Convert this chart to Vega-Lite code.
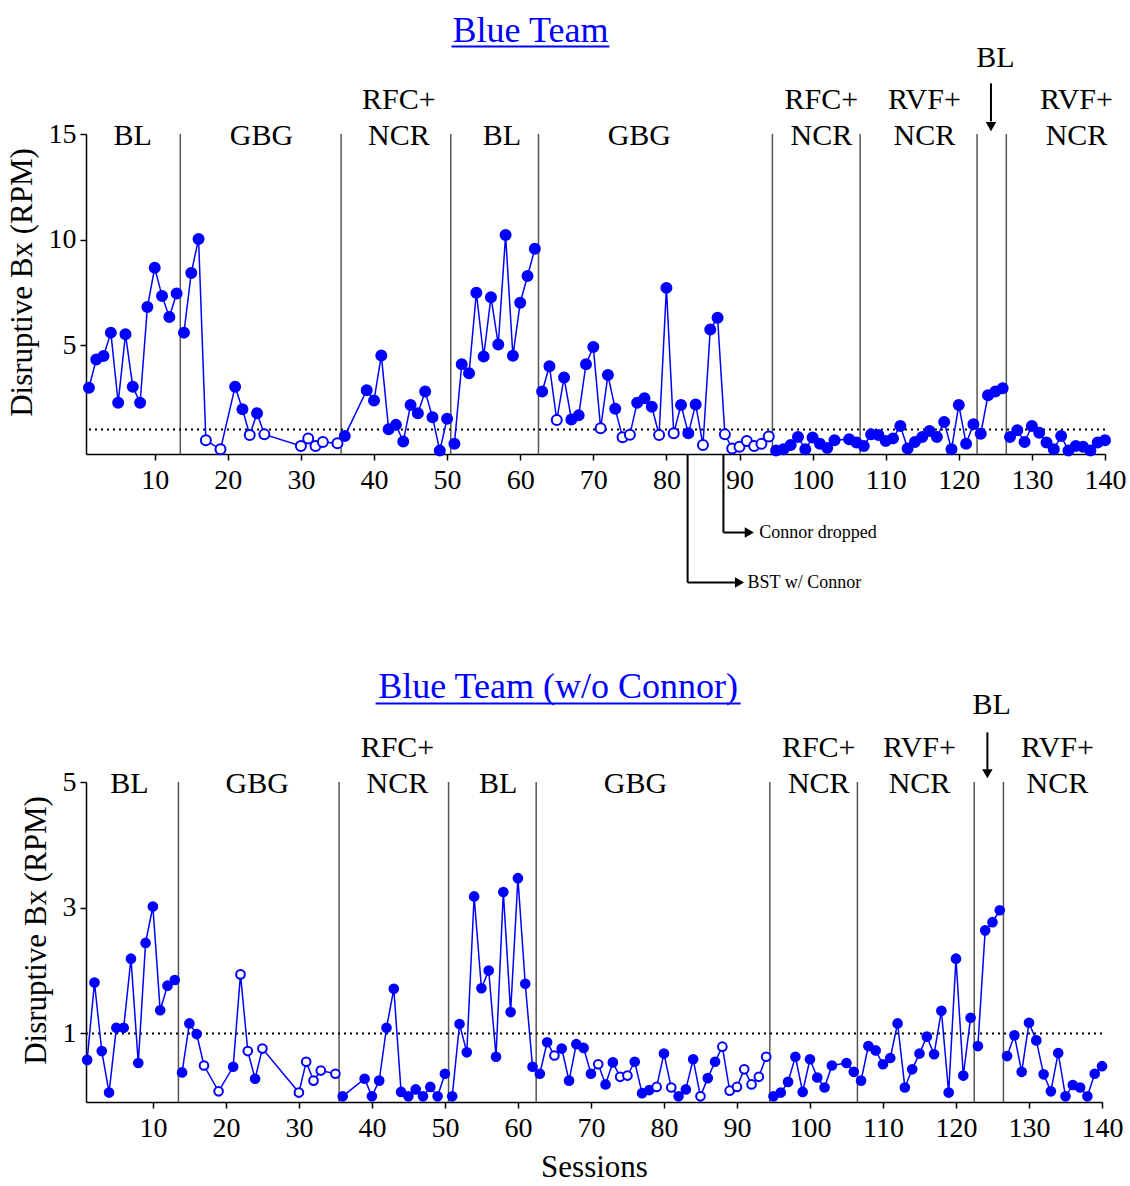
{
  "$schema": "https://vega.github.io/schema/vega-lite/v6.json",
  "background": "white",
  "padding": {"left": 5, "top": 13, "right": 5, "bottom": 0},
  "bounds": "flush",
  "spacing": 328,
  "config": {
    "view": {"stroke": null},
    "font": "Liberation Serif",
    "axis": {"grid": false, "domainColor": "#000000", "tickColor": "#000000", "labelColor": "#000000", "titleColor": "#000000", "labelFont": "Liberation Serif", "titleFont": "Liberation Serif", "labelFontSize": 28, "titleFontSize": 31, "titleFontWeight": "normal", "tickSize": 6, "domainWidth": 1.5, "tickWidth": 1.5, "labelFlush": false, "labelOverlap": false},
    "axisX": {"labelPadding": 6.5},
    "axisY": {"labelPadding": 4, "titleY": 148},
    "text": {"font": "Liberation Serif", "color": "#000000"}
  },
  "datasets": {
    "phaseChanges": [{"session": 13.5}, {"session": 35.5}, {"session": 50.5}, {"session": 62.5}, {"session": 94.5}, {"session": 106.5}, {"session": 122.5}, {"session": 126.5}],
    "labelsTop": [
      {"session": 7, "level": 14.5, "label": "BL"}, {"session": 24.6, "level": 14.5, "label": "GBG"},
      {"session": 43.4, "level": 16.2, "label": "RFC+"}, {"session": 43.4, "level": 14.5, "label": "NCR"},
      {"session": 57.5, "level": 14.5, "label": "BL"}, {"session": 76.3, "level": 14.5, "label": "GBG"},
      {"session": 101.2, "level": 16.2, "label": "RFC+"}, {"session": 101.2, "level": 14.5, "label": "NCR"},
      {"session": 115.3, "level": 16.2, "label": "RVF+"}, {"session": 115.3, "level": 14.5, "label": "NCR"},
      {"session": 136.1, "level": 16.2, "label": "RVF+"}, {"session": 136.1, "level": 14.5, "label": "NCR"},
      {"session": 125, "level": 18.16, "label": "BL"}
    ],
    "labelsBottom": [
      {"session": 6.8, "level": 4.83, "label": "BL"}, {"session": 24.3, "level": 4.83, "label": "GBG"},
      {"session": 43.5, "level": 5.4, "label": "RFC+"}, {"session": 43.5, "level": 4.83, "label": "NCR"},
      {"session": 57.3, "level": 4.83, "label": "BL"}, {"session": 76.1, "level": 4.83, "label": "GBG"},
      {"session": 101.2, "level": 5.4, "label": "RFC+"}, {"session": 101.2, "level": 4.83, "label": "NCR"},
      {"session": 115, "level": 5.4, "label": "RVF+"}, {"session": 115, "level": 4.83, "label": "NCR"},
      {"session": 133.9, "level": 5.4, "label": "RVF+"}, {"session": 133.9, "level": 4.83, "label": "NCR"},
      {"session": 124.9, "level": 6.08, "label": "BL"}
    ],
    "arrowTop": [{"session": 124.4, "from": 17.4, "to": 15.6, "head": 15.35}],
    "arrowBottom": [{"session": 124.3, "from": 5.79, "to": 5.2, "head": 5.13}],
    "underlineTop": [{"start": 50.6, "end": 72.2, "level": 19.15}],
    "underlineBottom": [{"start": 40.5, "end": 90.5, "level": 6.25}],
    "events": [
      {"event": "BST w/ Connor", "session": 82.9, "base": -0.16, "level": -6.25, "armEnd": 90.0, "labelAt": 91.1},
      {"event": "Connor dropped", "session": 87.8, "base": -0.16, "level": -3.88, "armEnd": 91.34, "labelAt": 92.7}
    ],
    "top": [
      {"session": 1, "rpm": 2.98, "phase": 1, "marker": "filled"},
      {"session": 2, "rpm": 4.32, "phase": 1, "marker": "filled"},
      {"session": 3, "rpm": 4.48, "phase": 1, "marker": "filled"},
      {"session": 4, "rpm": 5.59, "phase": 1, "marker": "filled"},
      {"session": 5, "rpm": 2.27, "phase": 1, "marker": "filled"},
      {"session": 6, "rpm": 5.51, "phase": 1, "marker": "filled"},
      {"session": 7, "rpm": 3.03, "phase": 1, "marker": "filled"},
      {"session": 8, "rpm": 2.27, "phase": 1, "marker": "filled"},
      {"session": 9, "rpm": 6.8, "phase": 1, "marker": "filled"},
      {"session": 10, "rpm": 8.66, "phase": 1, "marker": "filled"},
      {"session": 11, "rpm": 7.33, "phase": 1, "marker": "filled"},
      {"session": 12, "rpm": 6.33, "phase": 1, "marker": "filled"},
      {"session": 13, "rpm": 7.44, "phase": 1, "marker": "filled"},
      {"session": 14, "rpm": 5.59, "phase": 2, "marker": "filled"},
      {"session": 15, "rpm": 8.42, "phase": 2, "marker": "filled"},
      {"session": 16, "rpm": 10.03, "phase": 2, "marker": "filled"},
      {"session": 17, "rpm": 0.49, "phase": 2, "marker": "open"},
      {"session": 19, "rpm": 0.06, "phase": 2, "marker": "open"},
      {"session": 21, "rpm": 3.03, "phase": 2, "marker": "filled"},
      {"session": 22, "rpm": 1.96, "phase": 2, "marker": "filled"},
      {"session": 23, "rpm": 0.74, "phase": 2, "marker": "open"},
      {"session": 24, "rpm": 1.77, "phase": 2, "marker": "filled"},
      {"session": 25, "rpm": 0.77, "phase": 2, "marker": "open"},
      {"session": 30, "rpm": 0.22, "phase": 2, "marker": "open"},
      {"session": 31, "rpm": 0.57, "phase": 2, "marker": "open"},
      {"session": 32, "rpm": 0.22, "phase": 2, "marker": "open"},
      {"session": 33, "rpm": 0.41, "phase": 2, "marker": "open"},
      {"session": 35, "rpm": 0.35, "phase": 2, "marker": "open"},
      {"session": 36, "rpm": 0.69, "phase": 3, "marker": "filled"},
      {"session": 39, "rpm": 2.86, "phase": 3, "marker": "filled"},
      {"session": 40, "rpm": 2.38, "phase": 3, "marker": "filled"},
      {"session": 41, "rpm": 4.51, "phase": 3, "marker": "filled"},
      {"session": 42, "rpm": 1.01, "phase": 3, "marker": "filled"},
      {"session": 43, "rpm": 1.22, "phase": 3, "marker": "filled"},
      {"session": 44, "rpm": 0.43, "phase": 3, "marker": "filled"},
      {"session": 45, "rpm": 2.16, "phase": 3, "marker": "filled"},
      {"session": 46, "rpm": 1.77, "phase": 3, "marker": "filled"},
      {"session": 47, "rpm": 2.8, "phase": 3, "marker": "filled"},
      {"session": 48, "rpm": 1.58, "phase": 3, "marker": "filled"},
      {"session": 49, "rpm": 0.0, "phase": 3, "marker": "filled"},
      {"session": 50, "rpm": 1.51, "phase": 3, "marker": "filled"},
      {"session": 51, "rpm": 0.33, "phase": 4, "marker": "filled"},
      {"session": 52, "rpm": 4.09, "phase": 4, "marker": "filled"},
      {"session": 53, "rpm": 3.66, "phase": 4, "marker": "filled"},
      {"session": 54, "rpm": 7.48, "phase": 4, "marker": "filled"},
      {"session": 55, "rpm": 4.46, "phase": 4, "marker": "filled"},
      {"session": 56, "rpm": 7.27, "phase": 4, "marker": "filled"},
      {"session": 57, "rpm": 5.03, "phase": 4, "marker": "filled"},
      {"session": 58, "rpm": 10.21, "phase": 4, "marker": "filled"},
      {"session": 59, "rpm": 4.49, "phase": 4, "marker": "filled"},
      {"session": 60, "rpm": 7.0, "phase": 4, "marker": "filled"},
      {"session": 61, "rpm": 8.27, "phase": 4, "marker": "filled"},
      {"session": 62, "rpm": 9.56, "phase": 4, "marker": "filled"},
      {"session": 63, "rpm": 2.8, "phase": 5, "marker": "filled"},
      {"session": 64, "rpm": 4.0, "phase": 5, "marker": "filled"},
      {"session": 65, "rpm": 1.45, "phase": 5, "marker": "open"},
      {"session": 66, "rpm": 3.46, "phase": 5, "marker": "filled"},
      {"session": 67, "rpm": 1.48, "phase": 5, "marker": "filled"},
      {"session": 68, "rpm": 1.67, "phase": 5, "marker": "filled"},
      {"session": 69, "rpm": 4.09, "phase": 5, "marker": "filled"},
      {"session": 70, "rpm": 4.91, "phase": 5, "marker": "filled"},
      {"session": 71, "rpm": 1.06, "phase": 5, "marker": "open"},
      {"session": 72, "rpm": 3.58, "phase": 5, "marker": "filled"},
      {"session": 73, "rpm": 1.98, "phase": 5, "marker": "filled"},
      {"session": 74, "rpm": 0.63, "phase": 5, "marker": "open"},
      {"session": 75, "rpm": 0.75, "phase": 5, "marker": "open"},
      {"session": 76, "rpm": 2.27, "phase": 5, "marker": "filled"},
      {"session": 77, "rpm": 2.48, "phase": 5, "marker": "filled"},
      {"session": 78, "rpm": 2.08, "phase": 5, "marker": "filled"},
      {"session": 79, "rpm": 0.74, "phase": 5, "marker": "open"},
      {"session": 80, "rpm": 7.71, "phase": 5, "marker": "filled"},
      {"session": 81, "rpm": 0.82, "phase": 5, "marker": "open"},
      {"session": 82, "rpm": 2.16, "phase": 5, "marker": "filled"},
      {"session": 83, "rpm": 0.82, "phase": 5, "marker": "filled"},
      {"session": 84, "rpm": 2.19, "phase": 5, "marker": "filled"},
      {"session": 85, "rpm": 0.27, "phase": 5, "marker": "open"},
      {"session": 86, "rpm": 5.74, "phase": 5, "marker": "filled"},
      {"session": 87, "rpm": 6.29, "phase": 5, "marker": "filled"},
      {"session": 88, "rpm": 0.77, "phase": 5, "marker": "open"},
      {"session": 89, "rpm": 0.1, "phase": 5, "marker": "open"},
      {"session": 90, "rpm": 0.18, "phase": 5, "marker": "open"},
      {"session": 91, "rpm": 0.46, "phase": 5, "marker": "open"},
      {"session": 92, "rpm": 0.22, "phase": 5, "marker": "open"},
      {"session": 93, "rpm": 0.32, "phase": 5, "marker": "open"},
      {"session": 94, "rpm": 0.67, "phase": 5, "marker": "open"},
      {"session": 95, "rpm": 0.0, "phase": 6, "marker": "filled"},
      {"session": 96, "rpm": 0.06, "phase": 6, "marker": "filled"},
      {"session": 97, "rpm": 0.27, "phase": 6, "marker": "filled"},
      {"session": 98, "rpm": 0.65, "phase": 6, "marker": "filled"},
      {"session": 99, "rpm": 0.06, "phase": 6, "marker": "filled"},
      {"session": 100, "rpm": 0.62, "phase": 6, "marker": "filled"},
      {"session": 101, "rpm": 0.33, "phase": 6, "marker": "filled"},
      {"session": 102, "rpm": 0.12, "phase": 6, "marker": "filled"},
      {"session": 103, "rpm": 0.49, "phase": 6, "marker": "filled"},
      {"session": 105, "rpm": 0.54, "phase": 6, "marker": "filled"},
      {"session": 106, "rpm": 0.38, "phase": 6, "marker": "filled"},
      {"session": 107, "rpm": 0.22, "phase": 7, "marker": "filled"},
      {"session": 108, "rpm": 0.77, "phase": 7, "marker": "filled"},
      {"session": 109, "rpm": 0.74, "phase": 7, "marker": "filled"},
      {"session": 110, "rpm": 0.46, "phase": 7, "marker": "filled"},
      {"session": 111, "rpm": 0.58, "phase": 7, "marker": "filled"},
      {"session": 112, "rpm": 1.17, "phase": 7, "marker": "filled"},
      {"session": 113, "rpm": 0.1, "phase": 7, "marker": "filled"},
      {"session": 114, "rpm": 0.41, "phase": 7, "marker": "filled"},
      {"session": 115, "rpm": 0.65, "phase": 7, "marker": "filled"},
      {"session": 116, "rpm": 0.93, "phase": 7, "marker": "filled"},
      {"session": 117, "rpm": 0.65, "phase": 7, "marker": "filled"},
      {"session": 118, "rpm": 1.36, "phase": 7, "marker": "filled"},
      {"session": 119, "rpm": 0.06, "phase": 7, "marker": "filled"},
      {"session": 120, "rpm": 2.16, "phase": 7, "marker": "filled"},
      {"session": 121, "rpm": 0.33, "phase": 7, "marker": "filled"},
      {"session": 122, "rpm": 1.25, "phase": 7, "marker": "filled"},
      {"session": 123, "rpm": 0.8, "phase": 8, "marker": "filled"},
      {"session": 124, "rpm": 2.62, "phase": 8, "marker": "filled"},
      {"session": 125, "rpm": 2.8, "phase": 8, "marker": "filled"},
      {"session": 126, "rpm": 2.95, "phase": 8, "marker": "filled"},
      {"session": 127, "rpm": 0.65, "phase": 9, "marker": "filled"},
      {"session": 128, "rpm": 0.96, "phase": 9, "marker": "filled"},
      {"session": 129, "rpm": 0.41, "phase": 9, "marker": "filled"},
      {"session": 130, "rpm": 1.17, "phase": 9, "marker": "filled"},
      {"session": 131, "rpm": 0.85, "phase": 9, "marker": "filled"},
      {"session": 132, "rpm": 0.38, "phase": 9, "marker": "filled"},
      {"session": 133, "rpm": 0.06, "phase": 9, "marker": "filled"},
      {"session": 134, "rpm": 0.69, "phase": 9, "marker": "filled"},
      {"session": 135, "rpm": 0.0, "phase": 9, "marker": "filled"},
      {"session": 136, "rpm": 0.22, "phase": 9, "marker": "filled"},
      {"session": 137, "rpm": 0.18, "phase": 9, "marker": "filled"},
      {"session": 138, "rpm": 0.0, "phase": 9, "marker": "filled"},
      {"session": 139, "rpm": 0.38, "phase": 9, "marker": "filled"},
      {"session": 140, "rpm": 0.49, "phase": 9, "marker": "filled"}
    ],
    "bottom": [
      {"session": 1, "rpm": 0.58, "phase": 1, "marker": "filled"},
      {"session": 2, "rpm": 1.81, "phase": 1, "marker": "filled"},
      {"session": 3, "rpm": 0.72, "phase": 1, "marker": "filled"},
      {"session": 4, "rpm": 0.06, "phase": 1, "marker": "filled"},
      {"session": 5, "rpm": 1.09, "phase": 1, "marker": "filled"},
      {"session": 6, "rpm": 1.09, "phase": 1, "marker": "filled"},
      {"session": 7, "rpm": 2.19, "phase": 1, "marker": "filled"},
      {"session": 8, "rpm": 0.53, "phase": 1, "marker": "filled"},
      {"session": 9, "rpm": 2.44, "phase": 1, "marker": "filled"},
      {"session": 10, "rpm": 3.02, "phase": 1, "marker": "filled"},
      {"session": 11, "rpm": 1.37, "phase": 1, "marker": "filled"},
      {"session": 12, "rpm": 1.76, "phase": 1, "marker": "filled"},
      {"session": 13, "rpm": 1.85, "phase": 1, "marker": "filled"},
      {"session": 14, "rpm": 0.38, "phase": 2, "marker": "filled"},
      {"session": 15, "rpm": 1.16, "phase": 2, "marker": "filled"},
      {"session": 16, "rpm": 0.99, "phase": 2, "marker": "filled"},
      {"session": 17, "rpm": 0.49, "phase": 2, "marker": "open"},
      {"session": 19, "rpm": 0.08, "phase": 2, "marker": "open"},
      {"session": 21, "rpm": 0.47, "phase": 2, "marker": "filled"},
      {"session": 22, "rpm": 1.94, "phase": 2, "marker": "open"},
      {"session": 23, "rpm": 0.72, "phase": 2, "marker": "open"},
      {"session": 24, "rpm": 0.28, "phase": 2, "marker": "filled"},
      {"session": 25, "rpm": 0.76, "phase": 2, "marker": "open"},
      {"session": 30, "rpm": 0.06, "phase": 2, "marker": "open"},
      {"session": 31, "rpm": 0.55, "phase": 2, "marker": "open"},
      {"session": 32, "rpm": 0.25, "phase": 2, "marker": "open"},
      {"session": 33, "rpm": 0.41, "phase": 2, "marker": "open"},
      {"session": 35, "rpm": 0.36, "phase": 2, "marker": "open"},
      {"session": 36, "rpm": 0.0, "phase": 3, "marker": "filled"},
      {"session": 39, "rpm": 0.28, "phase": 3, "marker": "filled"},
      {"session": 40, "rpm": 0.0, "phase": 3, "marker": "filled"},
      {"session": 41, "rpm": 0.25, "phase": 3, "marker": "filled"},
      {"session": 42, "rpm": 1.09, "phase": 3, "marker": "filled"},
      {"session": 43, "rpm": 1.71, "phase": 3, "marker": "filled"},
      {"session": 44, "rpm": 0.07, "phase": 3, "marker": "filled"},
      {"session": 45, "rpm": 0.0, "phase": 3, "marker": "filled"},
      {"session": 46, "rpm": 0.11, "phase": 3, "marker": "filled"},
      {"session": 47, "rpm": 0.0, "phase": 3, "marker": "filled"},
      {"session": 48, "rpm": 0.15, "phase": 3, "marker": "filled"},
      {"session": 49, "rpm": 0.0, "phase": 3, "marker": "filled"},
      {"session": 50, "rpm": 0.36, "phase": 3, "marker": "filled"},
      {"session": 51, "rpm": 0.0, "phase": 4, "marker": "filled"},
      {"session": 52, "rpm": 1.15, "phase": 4, "marker": "filled"},
      {"session": 53, "rpm": 0.7, "phase": 4, "marker": "filled"},
      {"session": 54, "rpm": 3.18, "phase": 4, "marker": "filled"},
      {"session": 55, "rpm": 1.72, "phase": 4, "marker": "filled"},
      {"session": 56, "rpm": 2.0, "phase": 4, "marker": "filled"},
      {"session": 57, "rpm": 0.63, "phase": 4, "marker": "filled"},
      {"session": 58, "rpm": 3.25, "phase": 4, "marker": "filled"},
      {"session": 59, "rpm": 1.34, "phase": 4, "marker": "filled"},
      {"session": 60, "rpm": 3.47, "phase": 4, "marker": "filled"},
      {"session": 61, "rpm": 1.79, "phase": 4, "marker": "filled"},
      {"session": 62, "rpm": 0.47, "phase": 4, "marker": "filled"},
      {"session": 63, "rpm": 0.36, "phase": 5, "marker": "filled"},
      {"session": 64, "rpm": 0.86, "phase": 5, "marker": "filled"},
      {"session": 65, "rpm": 0.65, "phase": 5, "marker": "open"},
      {"session": 66, "rpm": 0.76, "phase": 5, "marker": "filled"},
      {"session": 67, "rpm": 0.25, "phase": 5, "marker": "filled"},
      {"session": 68, "rpm": 0.83, "phase": 5, "marker": "filled"},
      {"session": 69, "rpm": 0.77, "phase": 5, "marker": "filled"},
      {"session": 70, "rpm": 0.36, "phase": 5, "marker": "filled"},
      {"session": 71, "rpm": 0.51, "phase": 5, "marker": "open"},
      {"session": 72, "rpm": 0.19, "phase": 5, "marker": "filled"},
      {"session": 73, "rpm": 0.54, "phase": 5, "marker": "filled"},
      {"session": 74, "rpm": 0.31, "phase": 5, "marker": "open"},
      {"session": 75, "rpm": 0.33, "phase": 5, "marker": "open"},
      {"session": 76, "rpm": 0.55, "phase": 5, "marker": "filled"},
      {"session": 77, "rpm": 0.05, "phase": 5, "marker": "filled"},
      {"session": 78, "rpm": 0.1, "phase": 5, "marker": "filled"},
      {"session": 79, "rpm": 0.15, "phase": 5, "marker": "open"},
      {"session": 80, "rpm": 0.68, "phase": 5, "marker": "filled"},
      {"session": 81, "rpm": 0.14, "phase": 5, "marker": "open"},
      {"session": 82, "rpm": 0.0, "phase": 5, "marker": "filled"},
      {"session": 83, "rpm": 0.11, "phase": 5, "marker": "filled"},
      {"session": 84, "rpm": 0.59, "phase": 5, "marker": "filled"},
      {"session": 85, "rpm": 0.0, "phase": 5, "marker": "open"},
      {"session": 86, "rpm": 0.29, "phase": 5, "marker": "filled"},
      {"session": 87, "rpm": 0.55, "phase": 5, "marker": "filled"},
      {"session": 88, "rpm": 0.79, "phase": 5, "marker": "open"},
      {"session": 89, "rpm": 0.09, "phase": 5, "marker": "open"},
      {"session": 90, "rpm": 0.15, "phase": 5, "marker": "open"},
      {"session": 91, "rpm": 0.43, "phase": 5, "marker": "open"},
      {"session": 92, "rpm": 0.19, "phase": 5, "marker": "open"},
      {"session": 93, "rpm": 0.31, "phase": 5, "marker": "open"},
      {"session": 94, "rpm": 0.63, "phase": 5, "marker": "open"},
      {"session": 95, "rpm": 0.0, "phase": 6, "marker": "filled"},
      {"session": 96, "rpm": 0.06, "phase": 6, "marker": "filled"},
      {"session": 97, "rpm": 0.23, "phase": 6, "marker": "filled"},
      {"session": 98, "rpm": 0.63, "phase": 6, "marker": "filled"},
      {"session": 99, "rpm": 0.07, "phase": 6, "marker": "filled"},
      {"session": 100, "rpm": 0.59, "phase": 6, "marker": "filled"},
      {"session": 101, "rpm": 0.3, "phase": 6, "marker": "filled"},
      {"session": 102, "rpm": 0.14, "phase": 6, "marker": "filled"},
      {"session": 103, "rpm": 0.49, "phase": 6, "marker": "filled"},
      {"session": 105, "rpm": 0.53, "phase": 6, "marker": "filled"},
      {"session": 106, "rpm": 0.39, "phase": 6, "marker": "filled"},
      {"session": 107, "rpm": 0.25, "phase": 7, "marker": "filled"},
      {"session": 108, "rpm": 0.8, "phase": 7, "marker": "filled"},
      {"session": 109, "rpm": 0.73, "phase": 7, "marker": "filled"},
      {"session": 110, "rpm": 0.51, "phase": 7, "marker": "filled"},
      {"session": 111, "rpm": 0.61, "phase": 7, "marker": "filled"},
      {"session": 112, "rpm": 1.16, "phase": 7, "marker": "filled"},
      {"session": 113, "rpm": 0.14, "phase": 7, "marker": "filled"},
      {"session": 114, "rpm": 0.43, "phase": 7, "marker": "filled"},
      {"session": 115, "rpm": 0.68, "phase": 7, "marker": "filled"},
      {"session": 116, "rpm": 0.95, "phase": 7, "marker": "filled"},
      {"session": 117, "rpm": 0.67, "phase": 7, "marker": "filled"},
      {"session": 118, "rpm": 1.36, "phase": 7, "marker": "filled"},
      {"session": 119, "rpm": 0.06, "phase": 7, "marker": "filled"},
      {"session": 120, "rpm": 2.19, "phase": 7, "marker": "filled"},
      {"session": 121, "rpm": 0.33, "phase": 7, "marker": "filled"},
      {"session": 122, "rpm": 1.25, "phase": 7, "marker": "filled"},
      {"session": 123, "rpm": 0.8, "phase": 8, "marker": "filled"},
      {"session": 124, "rpm": 2.64, "phase": 8, "marker": "filled"},
      {"session": 125, "rpm": 2.77, "phase": 8, "marker": "filled"},
      {"session": 126, "rpm": 2.96, "phase": 8, "marker": "filled"},
      {"session": 127, "rpm": 0.64, "phase": 9, "marker": "filled"},
      {"session": 128, "rpm": 0.97, "phase": 9, "marker": "filled"},
      {"session": 129, "rpm": 0.39, "phase": 9, "marker": "filled"},
      {"session": 130, "rpm": 1.17, "phase": 9, "marker": "filled"},
      {"session": 131, "rpm": 0.89, "phase": 9, "marker": "filled"},
      {"session": 132, "rpm": 0.35, "phase": 9, "marker": "filled"},
      {"session": 133, "rpm": 0.08, "phase": 9, "marker": "filled"},
      {"session": 134, "rpm": 0.69, "phase": 9, "marker": "filled"},
      {"session": 135, "rpm": 0.0, "phase": 9, "marker": "filled"},
      {"session": 136, "rpm": 0.18, "phase": 9, "marker": "filled"},
      {"session": 137, "rpm": 0.14, "phase": 9, "marker": "filled"},
      {"session": 138, "rpm": 0.0, "phase": 9, "marker": "filled"},
      {"session": 139, "rpm": 0.36, "phase": 9, "marker": "filled"},
      {"session": 140, "rpm": 0.48, "phase": 9, "marker": "filled"}
    ]
  },
  "vconcat": [
    {
      "width": 1019,
      "height": 320,
      "title": {"text": "Blue Team", "font": "Liberation Serif", "fontSize": 36, "fontWeight": "normal", "color": "#0000ff", "frame": "group", "anchor": "middle", "dx": -65, "offset": -7},
      "layer": [
        {
          "data": {"name": "phaseChanges"},
          "mark": {"type": "rule", "color": "#555555", "strokeWidth": 1.5},
          "encoding": {"x": {"field": "session", "type": "quantitative"}}
        },
        {
          "data": {"values": [{"criterion": 1}]},
          "mark": {"type": "rule", "color": "#000000", "strokeDash": [2, 4], "strokeWidth": 2},
          "encoding": {"y": {"field": "criterion", "type": "quantitative"}}
        },
        {
          "data": {"name": "top"},
          "mark": {"type": "line", "color": "#0000ff", "strokeWidth": 1.5},
          "encoding": {
            "x": {"field": "session", "type": "quantitative"},
            "y": {"field": "rpm", "type": "quantitative"},
            "detail": {"field": "phase", "type": "nominal"}
          }
        },
        {
          "data": {"name": "top"},
          "mark": {"type": "point", "shape": "circle", "filled": true, "stroke": "#0000ff", "strokeWidth": 2, "size": 100, "opacity": 1},
          "encoding": {
            "x": {"field": "session", "type": "quantitative", "scale": {"domain": [0.6, 140], "nice": false, "zero": false}, "axis": {"values": [10, 20, 30, 40, 50, 60, 70, 80, 90, 100, 110, 120, 130, 140], "title": null}},
            "y": {"field": "rpm", "type": "quantitative", "scale": {"domain": [-0.16, 15], "nice": false, "zero": false}, "axis": {"values": [5, 10, 15], "format": "d", "title": "Disruptive Bx (RPM)", "titlePadding": 10}},
            "fill": {"field": "marker", "type": "nominal", "scale": {"domain": ["filled", "open"], "range": ["#0000ff", "#ffffff"]}, "legend": null}
          }
        },
        {
          "data": {"name": "labelsTop"},
          "mark": {"type": "text", "fontSize": 30, "baseline": "alphabetic", "align": "center"},
          "encoding": {
            "x": {"field": "session", "type": "quantitative"},
            "y": {"field": "level", "type": "quantitative"},
            "text": {"field": "label", "type": "nominal"}
          }
        },
        {
          "data": {"name": "arrowTop"},
          "layer": [
            {
              "mark": {"type": "rule", "color": "#000000", "strokeWidth": 2},
              "encoding": {"x": {"field": "session", "type": "quantitative"}, "y": {"field": "from", "type": "quantitative"}, "y2": {"field": "to"}}
            },
            {
              "mark": {"type": "point", "shape": "triangle-down", "filled": true, "color": "#000000", "size": 110, "opacity": 1},
              "encoding": {"x": {"field": "session", "type": "quantitative"}, "y": {"field": "head", "type": "quantitative"}}
            }
          ]
        },
        {
          "data": {"name": "underlineTop"},
          "mark": {"type": "rule", "color": "#0000ff", "strokeWidth": 2},
          "encoding": {"x": {"field": "start", "type": "quantitative"}, "x2": {"field": "end"}, "y": {"field": "level", "type": "quantitative"}}
        },
        {
          "data": {"name": "events"},
          "layer": [
            {
              "mark": {"type": "rule", "color": "#000000", "strokeWidth": 2},
              "encoding": {"x": {"field": "session", "type": "quantitative"}, "y": {"field": "base", "type": "quantitative"}, "y2": {"field": "level"}}
            },
            {
              "mark": {"type": "rule", "color": "#000000", "strokeWidth": 2},
              "encoding": {"x": {"field": "session", "type": "quantitative"}, "x2": {"field": "armEnd"}, "y": {"field": "level", "type": "quantitative"}}
            },
            {
              "mark": {"type": "point", "shape": "triangle-right", "filled": true, "color": "#000000", "size": 110, "opacity": 1},
              "encoding": {"x": {"field": "armEnd", "type": "quantitative"}, "y": {"field": "level", "type": "quantitative"}}
            },
            {
              "mark": {"type": "text", "fontSize": 18, "align": "left", "baseline": "middle"},
              "encoding": {"x": {"field": "labelAt", "type": "quantitative"}, "y": {"field": "level", "type": "quantitative"}, "text": {"field": "event", "type": "nominal"}}
            }
          ]
        }
      ]
    },
    {
      "width": 1016,
      "height": 320,
      "title": {"text": "Blue Team (w/o Connor)", "font": "Liberation Serif", "fontSize": 36, "fontWeight": "normal", "color": "#0000ff", "frame": "group", "anchor": "middle", "dx": -36, "offset": -16},
      "layer": [
        {
          "data": {"name": "phaseChanges"},
          "mark": {"type": "rule", "color": "#555555", "strokeWidth": 1.5},
          "encoding": {"x": {"field": "session", "type": "quantitative"}}
        },
        {
          "data": {"values": [{"criterion": 1}]},
          "mark": {"type": "rule", "color": "#000000", "strokeDash": [2, 4], "strokeWidth": 2},
          "encoding": {"y": {"field": "criterion", "type": "quantitative"}}
        },
        {
          "data": {"name": "bottom"},
          "mark": {"type": "line", "color": "#0000ff", "strokeWidth": 1.5},
          "encoding": {
            "x": {"field": "session", "type": "quantitative"},
            "y": {"field": "rpm", "type": "quantitative"},
            "detail": {"field": "phase", "type": "nominal"}
          }
        },
        {
          "data": {"name": "bottom"},
          "mark": {"type": "point", "shape": "circle", "filled": true, "stroke": "#0000ff", "strokeWidth": 2, "size": 75, "opacity": 1},
          "encoding": {
            "x": {"field": "session", "type": "quantitative", "scale": {"domain": [0.84, 140], "nice": false, "zero": false}, "axis": {"values": [10, 20, 30, 40, 50, 60, 70, 80, 90, 100, 110, 120, 130, 140], "title": "Sessions", "titlePadding": 10}},
            "y": {"field": "rpm", "type": "quantitative", "scale": {"domain": [-0.09, 5], "nice": false, "zero": false}, "axis": {"values": [1, 3, 5], "format": "d", "title": "Disruptive Bx (RPM)", "titlePadding": 10}},
            "fill": {"field": "marker", "type": "nominal", "scale": {"domain": ["filled", "open"], "range": ["#0000ff", "#ffffff"]}, "legend": null}
          }
        },
        {
          "data": {"name": "labelsBottom"},
          "mark": {"type": "text", "fontSize": 30, "baseline": "alphabetic", "align": "center"},
          "encoding": {
            "x": {"field": "session", "type": "quantitative"},
            "y": {"field": "level", "type": "quantitative"},
            "text": {"field": "label", "type": "nominal"}
          }
        },
        {
          "data": {"name": "arrowBottom"},
          "layer": [
            {
              "mark": {"type": "rule", "color": "#000000", "strokeWidth": 2},
              "encoding": {"x": {"field": "session", "type": "quantitative"}, "y": {"field": "from", "type": "quantitative"}, "y2": {"field": "to"}}
            },
            {
              "mark": {"type": "point", "shape": "triangle-down", "filled": true, "color": "#000000", "size": 110, "opacity": 1},
              "encoding": {"x": {"field": "session", "type": "quantitative"}, "y": {"field": "head", "type": "quantitative"}}
            }
          ]
        },
        {
          "data": {"name": "underlineBottom"},
          "mark": {"type": "rule", "color": "#0000ff", "strokeWidth": 2},
          "encoding": {"x": {"field": "start", "type": "quantitative"}, "x2": {"field": "end"}, "y": {"field": "level", "type": "quantitative"}}
        }
      ]
    }
  ]
}
